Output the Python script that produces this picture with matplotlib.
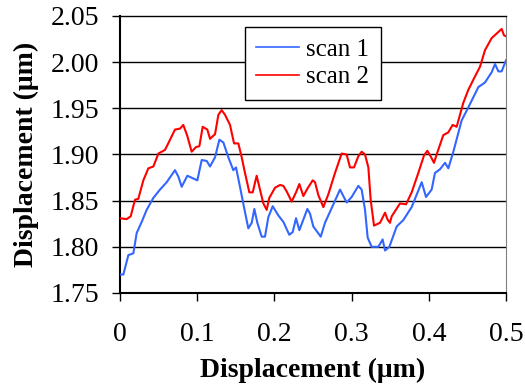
import numpy as np
import matplotlib.pyplot as plt

# scan 1 (blue)
x1 = [0.0, 0.0043, 0.0108, 0.0173, 0.0216, 0.0281, 0.0345, 0.0432, 0.0518, 0.0605,
      0.0712, 0.0756, 0.0799, 0.0872, 0.1002, 0.1058, 0.1123, 0.1166, 0.1231, 0.1287,
      0.1339, 0.1403, 0.1468, 0.1503, 0.1554, 0.1606, 0.1662, 0.1706, 0.174, 0.1779,
      0.1835, 0.1878, 0.1921, 0.1978, 0.2051, 0.2116, 0.2193, 0.2237, 0.228, 0.2323,
      0.2427, 0.2461, 0.2504, 0.26, 0.2655, 0.2742, 0.285, 0.2936, 0.3001, 0.3087,
      0.313, 0.3174, 0.3208, 0.326, 0.3346, 0.3402, 0.3433, 0.3489, 0.3584, 0.367,
      0.3778, 0.3908, 0.3964, 0.4037, 0.408, 0.4145, 0.421, 0.4253, 0.4318, 0.4426,
      0.4512, 0.4642, 0.4728, 0.4814, 0.4858, 0.4901, 0.4944, 0.5]
y1 = [1.770, 1.770, 1.791, 1.793, 1.815, 1.827, 1.840, 1.853, 1.862, 1.870,
      1.883, 1.876, 1.865, 1.877, 1.872, 1.894, 1.893, 1.887, 1.897, 1.916,
      1.913, 1.897, 1.883, 1.886, 1.865, 1.843, 1.820, 1.826, 1.841, 1.826,
      1.811, 1.811, 1.832, 1.844, 1.834, 1.827, 1.813, 1.816, 1.831, 1.818,
      1.841, 1.836, 1.822, 1.811, 1.826, 1.842, 1.862, 1.848, 1.854, 1.866,
      1.862, 1.840, 1.810, 1.800, 1.800, 1.808, 1.796, 1.800, 1.822, 1.829,
      1.843, 1.870, 1.854, 1.862, 1.880, 1.884, 1.891, 1.885, 1.903, 1.937,
      1.951, 1.973, 1.978, 1.989, 1.998, 1.990, 1.990, 2.002]

# scan 2 (red)
x2 = [0.0, 0.0086, 0.0138, 0.0194, 0.0237, 0.0302, 0.0367, 0.0432, 0.0497, 0.0583,
      0.0648, 0.0712, 0.0777, 0.082, 0.0872, 0.0928, 0.0984, 0.1028, 0.1071, 0.1131,
      0.1166, 0.1231, 0.1274, 0.1317, 0.136, 0.1425, 0.1477, 0.1533, 0.1576, 0.1619,
      0.1675, 0.1719, 0.177, 0.1813, 0.1857, 0.19, 0.1934, 0.2008, 0.2073, 0.2116,
      0.2159, 0.2224, 0.228, 0.2323, 0.2375, 0.2427, 0.2496, 0.2526, 0.2569, 0.2634,
      0.2699, 0.2785, 0.2871, 0.2936, 0.2979, 0.3031, 0.3087, 0.313, 0.3174, 0.3217,
      0.3247, 0.329, 0.3368, 0.3433, 0.3463, 0.3497, 0.3519, 0.3627, 0.3705, 0.3778,
      0.3864, 0.3938, 0.3981, 0.4024, 0.4067, 0.411, 0.4188, 0.4253, 0.4309, 0.4361,
      0.4447, 0.4512, 0.4577, 0.4663, 0.4728, 0.4814, 0.4879, 0.4944, 0.4974, 0.5]
y2 = [1.831, 1.830, 1.833, 1.851, 1.852, 1.872, 1.885, 1.887, 1.901, 1.905,
      1.916, 1.927, 1.928, 1.932, 1.920, 1.903, 1.908, 1.909, 1.930, 1.927,
      1.917, 1.922, 1.943, 1.948, 1.943, 1.932, 1.912, 1.912, 1.897, 1.880,
      1.859, 1.859, 1.877, 1.862, 1.847, 1.840, 1.853, 1.864, 1.867, 1.866,
      1.860, 1.849, 1.859, 1.868, 1.855, 1.863, 1.872, 1.870, 1.856, 1.843,
      1.857, 1.880, 1.901, 1.900, 1.886, 1.886, 1.898, 1.903, 1.900, 1.886,
      1.851, 1.823, 1.826, 1.837, 1.830, 1.826, 1.833, 1.847, 1.846, 1.859,
      1.880, 1.899, 1.904, 1.898, 1.891, 1.902, 1.921, 1.924, 1.932, 1.930,
      1.956, 1.970, 1.981, 1.995, 2.013, 2.026, 2.031, 2.036, 2.029, 2.028]

xticks = [0, 0.1, 0.2, 0.3, 0.4, 0.5]
xticklabels = ['0', '0.1', '0.2', '0.3', '0.4', '0.5']
yticks = [1.75, 1.80, 1.85, 1.90, 1.95, 2.00, 2.05]

plt.rcParams['font.family'] = ['Liberation Serif', 'DejaVu Serif']

fig = plt.figure(figsize=(5.25, 3.89), dpi=100)
ax = fig.add_axes([0.2286, 0.2468, 0.7352, 0.7121])

for yv in yticks[1:-1]:
    ax.axhline(yv, color='black', lw=1, zorder=1)

ax.plot(x1, y1, color='#3366ff', lw=1.5, label='scan 1', zorder=3)
ax.plot(x2, y2, color='#ff0000', lw=1.5, label='scan 2', zorder=3)

ax.set_xlim(0, 0.5)
ax.set_ylim(1.75, 2.05)
ax.set_xticks(xticks)
ax.set_xticklabels(xticklabels)
ax.set_yticks(yticks)
ax.set_yticklabels(['%.2f' % v for v in yticks])
ax.tick_params(labelsize=20, length=6, width=1, color='black', direction='out')
ax.tick_params(axis='x', pad=15)
ax.tick_params(axis='y', pad=9)

ax.spines['left'].set_linewidth(1.5)
ax.spines['bottom'].set_linewidth(1.5)
ax.spines['top'].set_linewidth(1)
ax.spines['right'].set_color('#808080')

ax.set_xlabel('Displacement (μm)', fontsize=20, fontweight='bold', labelpad=8)
ax.set_ylabel('Displacement (μm)', fontsize=20, fontweight='bold', labelpad=8)

leg = ax.legend(loc='upper left', bbox_to_anchor=(0.324, 0.96), borderaxespad=0,
                fontsize=18, frameon=True, fancybox=False, edgecolor='black',
                framealpha=1, handlelength=1.7, borderpad=0.45, labelspacing=0.2,
                handletextpad=0.3)
leg.get_frame().set_linewidth(1)
for h in leg.get_lines():
    h.set_linewidth(1.2)

fig.savefig('out.png', dpi=100)
